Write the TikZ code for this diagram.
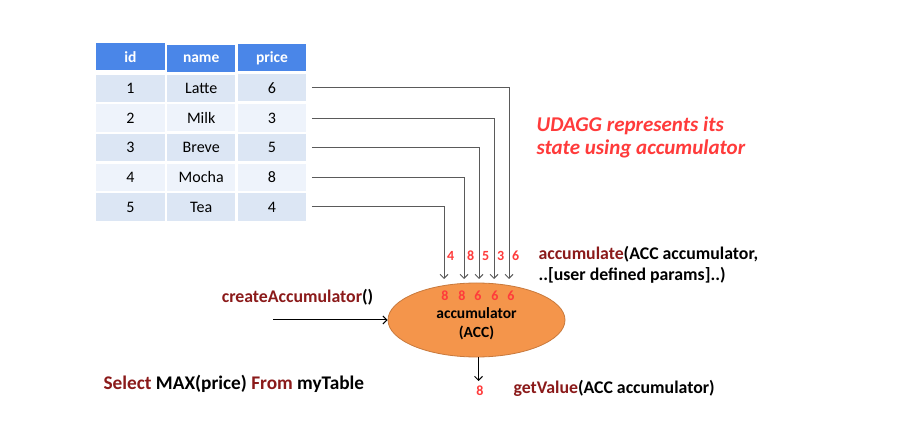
\documentclass[tikz,border=0pt]{standalone}
\usepackage{fontspec}
\setmainfont{Carlito}
\usetikzlibrary{matrix,shapes.geometric,arrows.meta}
\definecolor{headblue}{HTML}{4A86E8}
\definecolor{rowa}{HTML}{DCE6F4}
\definecolor{rowb}{HTML}{EEF3FB}
\definecolor{accfill}{HTML}{F4954B}
\definecolor{accdraw}{HTML}{C8793C}
\definecolor{fnred}{HTML}{8B1A1A}
\definecolor{numred}{HTML}{FF3B3B}
\definecolor{wiregray}{HTML}{5A5A5A}
\tikzset{
  cell/.style={draw=white, line width=1.2pt, fill=rowa, minimum width=69.6pt, minimum height=28.3pt, inner sep=0pt, font=\fontsize{16}{18}\selectfont},
  head/.style={cell, fill=headblue, text=white, font=\fontsize{15.5}{18}\selectfont\bfseries},
  tip/.style={-{Straight Barb[length=4pt, width=8pt, line width=1pt]}},
  wire/.style={draw=wiregray, line width=1pt, tip},
  num/.style={text=numred, font=\fontsize{14}{16}\selectfont\bfseries, inner sep=1pt},
  call/.style={font=\fontsize{17.8}{21}\selectfont\bfseries, align=left}
}

\begin{document}
\begin{tikzpicture}[x=1pt, y=-1pt]
  \useasboundingbox[fill=white] (0,0) rectangle (915,435);
  % table of drinks
  \matrix (tbl) [matrix of nodes, nodes in empty cells, anchor=north west, inner sep=0pt, outer sep=0pt,
    row sep=0pt, column sep=0pt,
    nodes={cell}, row 1/.style={nodes={head}}, row 3/.style={nodes={fill=rowb}}, row 5/.style={nodes={fill=rowb}}] at (95,42) {
    id & name  & price \\
    1  & Latte & 6 \\
    2  & Milk  & 3 \\
    3  & Breve & 5 \\
    4  & Mocha & 8 \\
    5  & Tea   & 4 \\
  };

  % the accumulator
  \node[ellipse, fill=accfill, draw=accdraw, line width=0.8pt, minimum width=177pt, minimum height=74pt,
    align=center, font=\fontsize{15.5}{19}\selectfont\bfseries] (acc) at (476.5,320) {\\accumulator\\(ACC)};
  \foreach \x/\v [count=\i] in {445/8, 462/8, 478/6, 495/6, 511/6}
    \node[num] (st\i) at (\x,296) {\v};

  % values flowing in
  \foreach \r/\x/\v in {2/509/6, 3/494/3, 4/479/5, 5/464/8, 6/444/4} {
    \coordinate (in\r) at (\x,279);
    \draw[wire] ([xshift=5pt]tbl-\r-3.east) -| (in\r);
    \node[num, anchor=west] (lbl\r) at (\x+2,256) {\v};
  }

  \node[font=\fontsize{21}{23}\selectfont\bfseries\itshape, text=numred, align=left, anchor=west] (note) at (533,137.5)
    {UDAGG represents its\\state using accumulator};
  \node[call, anchor=west] (accum) at (535,264.5)
    {\textcolor{fnred}{accumulate}(ACC accumulator,\\..[user defined params]..)};

  % creation
  \node[call] (newacc) at (297.5,297) {\textcolor{fnred}{createAccumulator}()};
  \coordinate (src) at (273,320);
  \draw[tip, line width=1pt] (src) -- (acc.west);

  % result
  \coordinate (res) at (478.5,381);
  \draw[tip, line width=1pt] (acc.south -| res) -- (res);
  \node[num] (outv) at (480,391) {8};
  \node[call, anchor=west] (getv) at (510,388) {\textcolor{fnred}{getValue}(ACC accumulator)};

  \node[font=\fontsize{19.3}{22}\selectfont\bfseries, anchor=west] (query) at (100,384)
    {\textcolor{fnred}{Select} MAX(price) \textcolor{fnred}{From} myTable};
\end{tikzpicture}
\end{document}
